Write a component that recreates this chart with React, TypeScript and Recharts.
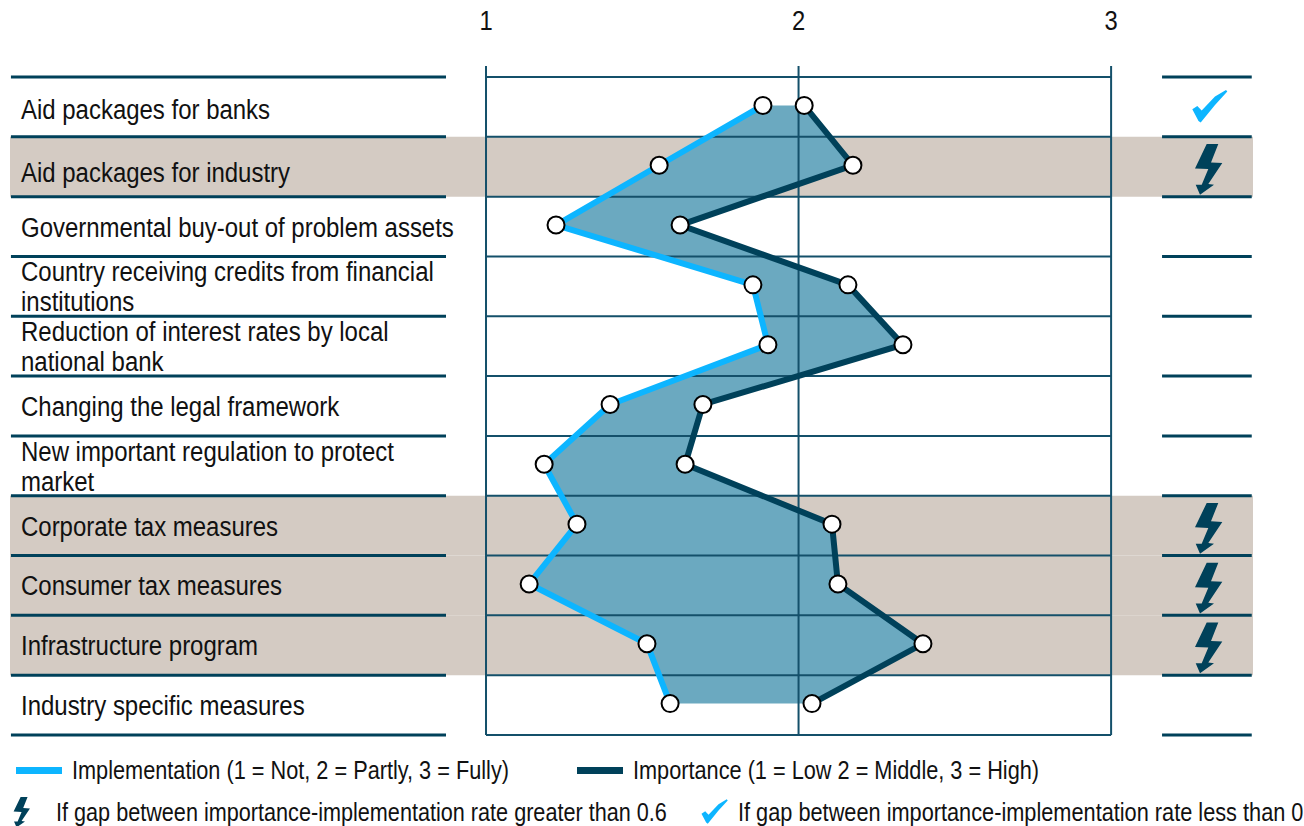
import {
  Area,
  ComposedChart,
  Legend,
  Line,
  ReferenceArea,
  ReferenceLine,
  XAxis,
  YAxis,
} from "recharts";

const measures = [
  "Aid packages for banks",
  "Aid packages for industry",
  "Governmental buy-out of problem assets",
  "Country receiving credits from financial institutions",
  "Reduction of interest rates by local national bank",
  "Changing the legal framework",
  "New important regulation to protect market",
  "Corporate tax measures",
  "Consumer tax measures",
  "Infrastructure program",
  "Industry specific measures",
];

// Label wrapping as printed in the source table
const labelLines: Record<string, string[]> = {
  "Country receiving credits from financial institutions": [
    "Country receiving credits from financial",
    "institutions",
  ],
  "Reduction of interest rates by local national bank": [
    "Reduction of interest rates by local",
    "national bank",
  ],
  "New important regulation to protect market": [
    "New important regulation to protect",
    "market",
  ],
};

// The first two labels sit a little low in their rows in the source
const labelNudge: Record<string, number> = {
  "Aid packages for banks": 2,
  "Aid packages for industry": 5,
};

const implementation = [1.886, 1.554, 1.224, 1.854, 1.902, 1.397, 1.186, 1.291, 1.138, 1.515, 1.589];
const importance = [2.018, 2.174, 1.621, 2.158, 2.334, 1.694, 1.637, 2.107, 2.126, 2.398, 2.043];
const flags = ["check", "bolt", "", "", "", "", "", "bolt", "bolt", "bolt", ""];

const xTicks = [1, 2, 3];
const xMin = -0.523;
const xMax = 3.454;
const leftRule: [number, number] = [-0.52, 0.872];
const plotRule: [number, number] = [1, 3];
const rightRule: [number, number] = [3.163, 3.45];

const IMPLEMENTATION_NAME = "Implementation (1 = Not, 2 = Partly, 3 = Fully)";
const IMPORTANCE_NAME = "Importance (1 = Low 2 = Middle, 3 = High)";
const GAP_HIGH = "If gap between importance-implementation rate greater than 0.6";
const GAP_LOW = "If gap between importance-implementation rate less than 0";

const FONT = '"Liberation Sans", Arial, sans-serif';
const SQUEEZE = 0.888;
const BLUE = "#0db5ff";
const NAVY = "#00415a";
const RULE = "#14506a";
const BAND = "#d4cbc3";
const FILL = "#6ba9c0";

const data = measures.map((name, i) => ({
  name,
  implementation: implementation[i],
  importance: importance[i],
  range: [implementation[i], importance[i]],
  flag: flags[i],
}));

const lastMeasure = measures[measures.length - 1];

function BoltIcon({ x, y, scale = 1 }: { x: number; y: number; scale?: number }) {
  return (
    <path
      transform={`translate(${x},${y}) scale(${scale})`}
      fill={NAVY}
      d="M-2.3-21.7L9.3-21.7L2-3.3L13.3-2.7L-0.7 18.3L5 19L-9 29L-13.3 19L-7.3 19L-0.7 3.3L-14 2.7Z"
    />
  );
}

function CheckIcon({ x, y, scale = 1 }: { x: number; y: number; scale?: number }) {
  return (
    <path
      transform={`translate(${x},${y}) scale(${scale})`}
      fill={BLUE}
      d="M-16.7 2.3L-11.7-1L-7.3 3.7L6-10.3L17-17L18.3-15.3L6-2L-8.3 15.7L-10.5 14Z"
    />
  );
}

function ValueTick({ x, y, payload }: any) {
  return (
    <text transform={`translate(${x},${y}) scale(0.85,1)`} textAnchor="middle" fontFamily={FONT} fontSize={28} fill="#111">
      {payload.value}
    </text>
  );
}

function MeasureTick({ x, y, payload }: any) {
  const lines = labelLines[payload.value] ?? [payload.value];
  const top = lines.length === 1 ? 10 + (labelNudge[payload.value] ?? 0) : -5;
  return (
    <g>
      {lines.map((line, i) => (
        <text
          key={line}
          transform={`translate(${x + 11},${y + top + i * 30}) scale(${SQUEEZE},1)`}
          fontFamily={FONT}
          fontSize={27}
          fill="#111"
        >
          {line}
        </text>
      ))}
    </g>
  );
}

function FlagTick({ x, y, index }: any) {
  const flag = flags[index];
  if (flag === "bolt") return <BoltIcon x={x - 44} y={y - 1} />;
  if (flag === "check") return <CheckIcon x={x - 44} y={y} />;
  return null;
}

function SqueezedLabel({ left, top, squeeze, children }: { left: number; top: number; squeeze: number; children: string }) {
  return (
    <div
      style={{
        position: "absolute",
        left,
        top,
        fontFamily: FONT,
        fontSize: 26,
        lineHeight: "26px",
        color: "#111",
        whiteSpace: "nowrap",
        transform: `scaleX(${squeeze})`,
        transformOrigin: "left center",
      }}
    >
      {children}
    </div>
  );
}

function LegendRows({ payload }: any) {
  const entries = (payload ?? []).filter((e: any) => e.type !== "none");
  return (
    <div style={{ position: "relative", width: 1304, height: 91 }}>
      {entries.map((e: any, i: number) => {
        const left = i === 0 ? 16 : 577;
        return (
          <div key={e.value}>
            <span style={{ position: "absolute", left, top: 32, width: 46, height: 7, background: e.color }} />
            <SqueezedLabel left={left + 56} top={22} squeeze={0.835}>{e.value}</SqueezedLabel>
          </div>
        );
      })}
      <svg style={{ position: "absolute", left: 0, top: 0 }} width={1304} height={91}>
        <BoltIcon x={22} y={75} scale={0.6} />
        <CheckIcon x={714} y={77} scale={0.75} />
      </svg>
      <SqueezedLabel left={56} top={64} squeeze={0.832}>{GAP_HIGH}</SqueezedLabel>
      <SqueezedLabel left={738} top={64} squeeze={0.836}>{GAP_LOW}</SqueezedLabel>
    </div>
  );
}

function rowRule(key: string, range: [number, number], measure: string, position: "start" | "end", width: number, color: string) {
  return (
    <ReferenceLine
      key={key}
      segment={[
        { x: range[0], y: measure },
        { x: range[1], y: measure },
      ]}
      position={position}
      stroke={color}
      strokeWidth={width}
      ifOverflow="visible"
      zIndex={350}
    />
  );
}

export default function App() {
  return (
    <div style={{ position: "fixed", left: 0, top: 0, width: 1304, height: 826, background: "#fff", overflow: "hidden" }}>
      <ComposedChart
        width={1304}
        height={826}
        layout="vertical"
        data={data}
        margin={{ top: 0, right: 50, bottom: 0, left: 9 }}
      >
        <XAxis
          type="number"
          orientation="top"
          domain={[xMin, xMax]}
          allowDataOverflow
          ticks={xTicks}
          height={77}
          axisLine={false}
          tickLine={{ stroke: RULE, strokeWidth: 2 }}
          tickSize={11}
          tickMargin={36}
          tick={<ValueTick />}
        />
        <YAxis type="category" dataKey="name" scale="band" width={1} axisLine={false} tickLine={false} tickSize={0} tickMargin={0} interval={0} tick={<MeasureTick />} />
        <YAxis yAxisId="flags" orientation="right" type="category" dataKey="name" scale="band" width={1} axisLine={false} tickLine={false} tickSize={0} tickMargin={0} interval={0} tick={<FlagTick />} />
        {/* marks sit about 1.5px above the row centres in the source */}
        <YAxis yAxisId="marks" hide type="category" dataKey="name" scale="band" padding={{ top: -1.5, bottom: 1.5 }} />

        {measures.map((m, i) =>
          flags[i] === "bolt" ? (
            <ReferenceArea key={m} y1={m} y2={m} x1={xMin} x2={xMax} fill={BAND} fillOpacity={1} stroke="none" ifOverflow="visible" zIndex={50} />
          ) : null,
        )}

        <Area yAxisId="marks" dataKey="range" fill={FILL} fillOpacity={1} stroke="none" isAnimationActive={false} legendType="none" dot={false} activeDot={false} zIndex={100} />

        {measures.flatMap((m) => [
          rowRule(`l-${m}`, leftRule, m, "start", 3, NAVY),
          rowRule(`p-${m}`, plotRule, m, "start", 2, RULE),
          rowRule(`r-${m}`, rightRule, m, "start", 3, NAVY),
        ])}
        {rowRule("l-end", leftRule, lastMeasure, "end", 3, NAVY)}
        {rowRule("p-end", plotRule, lastMeasure, "end", 2, RULE)}
        {rowRule("r-end", rightRule, lastMeasure, "end", 3, NAVY)}
        {xTicks.map((t) => (
          <ReferenceLine key={t} x={t} stroke={RULE} strokeWidth={2} zIndex={350} />
        ))}

        <Line
          yAxisId="marks"
          name={IMPLEMENTATION_NAME}
          dataKey="implementation"
          stroke={BLUE}
          strokeWidth={6}
          dot={{ r: 8.5, fill: "#fff", stroke: "#000", strokeWidth: 2 }}
          isAnimationActive={false}
          zIndex={400}
        />
        <Line
          yAxisId="marks"
          name={IMPORTANCE_NAME}
          dataKey="importance"
          stroke={NAVY}
          strokeWidth={6}
          dot={{ r: 8.5, fill: "#fff", stroke: "#000", strokeWidth: 2 }}
          isAnimationActive={false}
          zIndex={400}
        />
        <Legend verticalAlign="bottom" height={91} width={1304} content={<LegendRows />} wrapperStyle={{ left: 0 }} />
      </ComposedChart>
    </div>
  );
}
